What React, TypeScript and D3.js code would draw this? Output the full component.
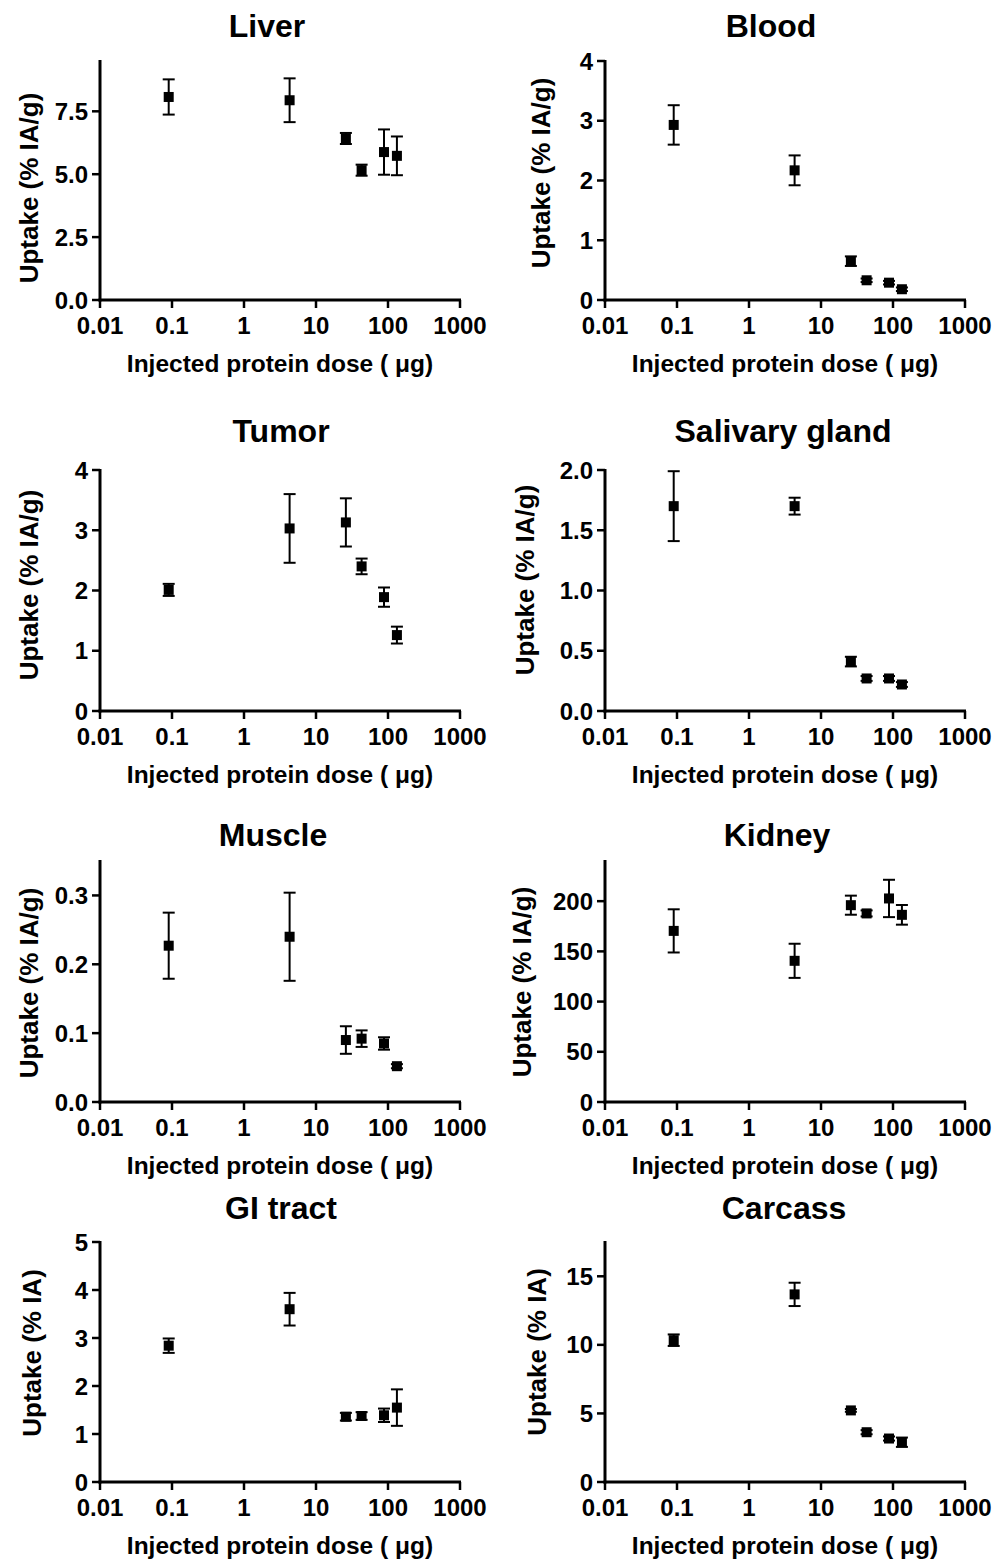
import * as d3 from "d3";

// injected protein doses (µg), shared by every panel
const DOSES = [0.09, 4.3, 26, 43, 88, 133];
const X_TICKS = [0.01, 0.1, 1, 10, 100, 1000];

// mean uptake and error per organ, same order as DOSES
const LIVER_MEAN = [8.07, 7.94, 6.42, 5.16, 5.88, 5.73];
const LIVER_ERR = [0.7, 0.87, 0.22, 0.22, 0.9, 0.77];
const BLOOD_MEAN = [2.93, 2.17, 0.65, 0.33, 0.29, 0.18];
const BLOOD_ERR = [0.33, 0.25, 0.08, 0.03, 0.03, 0.03];
const TUMOR_MEAN = [2.01, 3.03, 3.13, 2.4, 1.89, 1.26];
const TUMOR_ERR = [0.1, 0.57, 0.4, 0.13, 0.16, 0.14];
const SALIVARY_MEAN = [1.7, 1.7, 0.41, 0.27, 0.27, 0.22];
const SALIVARY_ERR = [0.29, 0.07, 0.04, 0.02, 0.02, 0.02];
const MUSCLE_MEAN = [0.227, 0.24, 0.09, 0.092, 0.085, 0.052];
const MUSCLE_ERR = [0.048, 0.064, 0.02, 0.012, 0.009, 0.003];
const KIDNEY_MEAN = [170.4, 140.6, 196, 187.8, 202.7, 186.4];
const KIDNEY_ERR = [21.5, 17, 9.5, 3, 18.6, 9.8];
const GI_MEAN = [2.84, 3.6, 1.36, 1.375, 1.39, 1.55];
const GI_ERR = [0.15, 0.34, 0.08, 0.08, 0.14, 0.38];
const CARCASS_MEAN = [10.34, 13.68, 5.22, 3.63, 3.17, 2.9];
const CARCASS_ERR = [0.42, 0.85, 0.1, 0.15, 0.15, 0.34];

const PANELS = [
  { title: "Liver", ylabel: "Uptake (% IA/g)", yMax: 9.5, ticks: [0, 2.5, 5, 7.5], fmt: ".1f", mean: LIVER_MEAN, err: LIVER_ERR },
  { title: "Blood", ylabel: "Uptake (% IA/g)", yMax: 4, ticks: [0, 1, 2, 3, 4], fmt: "d", mean: BLOOD_MEAN, err: BLOOD_ERR },
  { title: "Tumor", ylabel: "Uptake (% IA/g)", yMax: 4, ticks: [0, 1, 2, 3, 4], fmt: "d", mean: TUMOR_MEAN, err: TUMOR_ERR },
  { title: "Salivary gland", ylabel: "Uptake (% IA/g)", yMax: 2, ticks: [0, 0.5, 1, 1.5, 2], fmt: ".1f", mean: SALIVARY_MEAN, err: SALIVARY_ERR },
  { title: "Muscle", ylabel: "Uptake (% IA/g)", yMax: 0.35, ticks: [0, 0.1, 0.2, 0.3], fmt: ".1f", mean: MUSCLE_MEAN, err: MUSCLE_ERR },
  { title: "Kidney", ylabel: "Uptake (% IA/g)", yMax: 240, ticks: [0, 50, 100, 150, 200], fmt: "d", mean: KIDNEY_MEAN, err: KIDNEY_ERR },
  { title: "GI tract", ylabel: "Uptake (% IA)", yMax: 5, ticks: [0, 1, 2, 3, 4, 5], fmt: "d", mean: GI_MEAN, err: GI_ERR },
  { title: "Carcass", ylabel: "Uptake (% IA)", yMax: 17.5, ticks: [0, 5, 10, 15], fmt: "d", mean: CARCASS_MEAN, err: CARCASS_ERR },
];

// layout in page pixels
const COL_X = [100, 605];
const ROW_TOP = [61, 470, 861, 1242];
const ROW_BOTTOM = [300, 711, 1102, 1482];
const PLOT_W = 360;
const TITLE_X = [267, 771, 281, 783, 273, 777, 281, 784];
const TITLE_Y = [37, 442, 846, 1219];
const YLABEL_X = [29, 541, 29, 525, 29, 522, 32, 537];
const YLABEL_Y = [188, 173, 585, 580, 983, 982, 1353, 1352];

const FONT = "'Liberation Sans', Arial, Helvetica, sans-serif";

function Panel({ p, i }) {
  const col = i % 2;
  const row = Math.floor(i / 2);
  const x0 = COL_X[col];
  const top = ROW_TOP[row];
  const bottom = ROW_BOTTOM[row];

  const x = d3.scaleLog().domain([0.01, 1000]).range([x0, x0 + PLOT_W]);
  const y = d3.scaleLinear().domain([0, p.yMax]).range([bottom, top]);
  const fmt = d3.format(p.fmt);
  const cap = 6;
  const box = 10;

  return (
    <g>
      <text x={TITLE_X[i]} y={TITLE_Y[row]} textAnchor="middle" fontSize={32} fontWeight="bold">
        {p.title}
      </text>

      {/* axes */}
      <line x1={x0} x2={x0} y1={top - 1} y2={bottom + 1.5} stroke="#000" strokeWidth={3} />
      <line x1={x0 - 1.5} x2={x0 + PLOT_W + 1} y1={bottom} y2={bottom} stroke="#000" strokeWidth={3} />

      {p.ticks.map((t) => (
        <g key={t}>
          <line x1={x0 - 8} x2={x0} y1={y(t)} y2={y(t)} stroke="#000" strokeWidth={2.5} />
          <text x={x0 - 12} y={y(t)} dy="0.36em" textAnchor="end" fontSize={24} fontWeight="bold">
            {fmt(t)}
          </text>
        </g>
      ))}

      {X_TICKS.map((t) => (
        <g key={t}>
          <line x1={x(t)} x2={x(t)} y1={bottom} y2={bottom + 8} stroke="#000" strokeWidth={2.5} />
          <text x={x(t)} y={bottom + 34} textAnchor="middle" fontSize={24} fontWeight="bold">
            {String(t)}
          </text>
        </g>
      ))}

      <text x={x0 + PLOT_W / 2} y={bottom + 72} textAnchor="middle" fontSize={24.5} fontWeight="bold">
        Injected protein dose ( μg)
      </text>
      <text
        transform={`translate(${YLABEL_X[i]},${YLABEL_Y[i]}) rotate(-90)`}
        dy="0.35em"
        textAnchor="middle"
        fontSize={26}
        fontWeight="bold"
      >
        {p.ylabel}
      </text>

      {/* error bars and square markers */}
      {DOSES.map((d, k) => {
        const cx = x(d);
        const hi = y(p.mean[k] + p.err[k]);
        const lo = y(p.mean[k] - p.err[k]);
        return (
          <g key={k}>
            <line x1={cx} x2={cx} y1={hi} y2={lo} stroke="#000" strokeWidth={2} />
            <line x1={cx - cap} x2={cx + cap} y1={hi} y2={hi} stroke="#000" strokeWidth={2} />
            <line x1={cx - cap} x2={cx + cap} y1={lo} y2={lo} stroke="#000" strokeWidth={2} />
            <rect x={cx - box / 2} y={y(p.mean[k]) - box / 2} width={box} height={box} fill="#000" />
          </g>
        );
      })}
    </g>
  );
}

export default function App() {
  return (
    <svg
      width={1008}
      height={1560}
      style={{ position: "absolute", left: 0, top: 0, background: "#fff" }}
      fontFamily={FONT}
    >
      <rect width={1008} height={1560} fill="#fff" />
      {PANELS.map((p, i) => (
        <Panel key={p.title} p={p} i={i} />
      ))}
    </svg>
  );
}
